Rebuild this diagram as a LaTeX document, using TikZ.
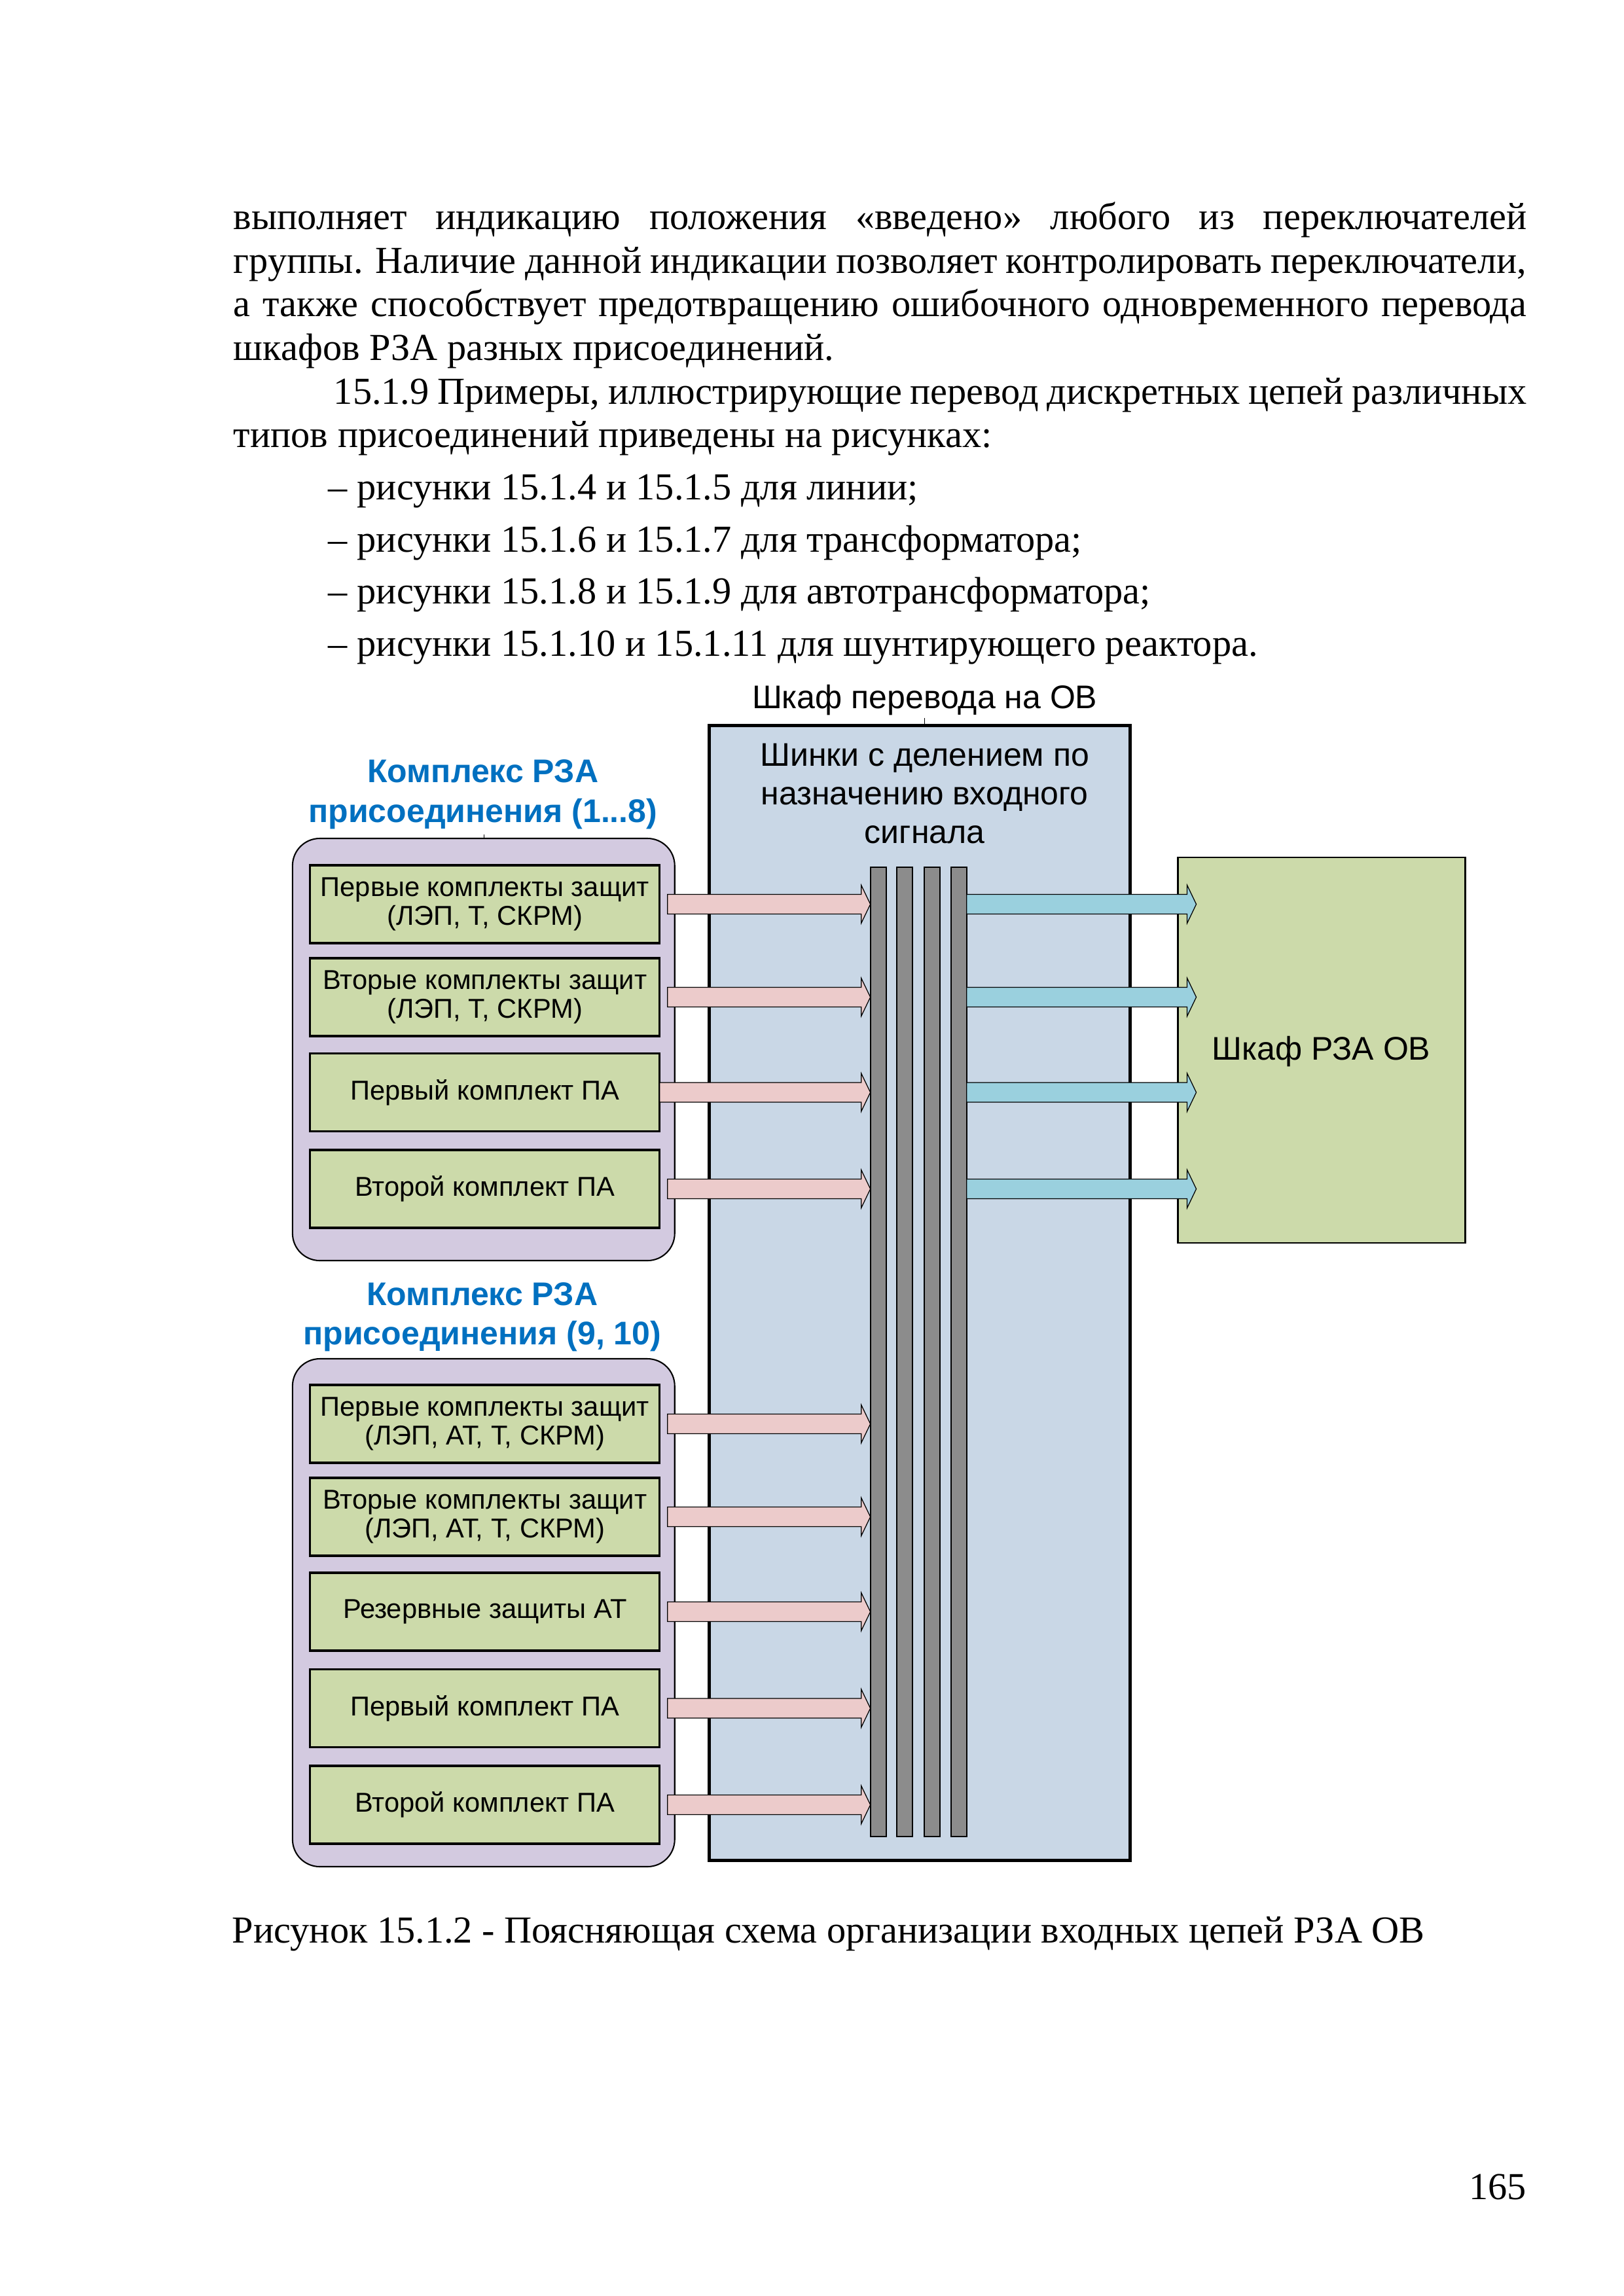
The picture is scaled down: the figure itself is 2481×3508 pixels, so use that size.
\documentclass[tikz,border=0pt]{standalone}
\usepackage{fontspec}
\setmainfont{Liberation Serif}
\newfontfamily\arialf{Liberation Sans}
\usetikzlibrary{calc}
\definecolor{purp}{RGB}{211,202,224}
\definecolor{grn}{RGB}{204,218,170}
\definecolor{bigblue}{RGB}{201,215,230}
\definecolor{pinkarr}{RGB}{236,203,203}
\definecolor{aquaarr}{RGB}{154,208,222}
\definecolor{bargray}{RGB}{140,140,140}
\definecolor{labblue}{RGB}{0,112,192}
\tikzset{
  body/.style={anchor=base west, inner sep=0pt, outer sep=0pt, font=\fontsize{14pt}{16pt}\selectfont},
  gbox/.style={draw=black, line width=0.75pt, fill=grn, minimum width=128.12pt, minimum height=28.56pt,
    inner sep=0pt, outer sep=0pt, align=center, font=\arialf\fontsize{10pt}{10.7pt}\selectfont},
  pbox/.style={draw=black, line width=0.5pt, fill=purp, rounded corners=10pt, minimum width=140.12pt,
    inner sep=0pt, outer sep=0pt},
  busbar/.style={draw=black, line width=0.45pt, fill=bargray, minimum width=5.76pt, minimum height=355.43pt,
    inner sep=0pt, outer sep=0pt},
  labtext/.style={anchor=base, inner sep=0pt, outer sep=0pt, font=\arialf\fontsize{12pt}{14pt}\selectfont},
  bluelab/.style={anchor=base, inner sep=0pt, outer sep=0pt, text=labblue, font=\arialf\bfseries\fontsize{12pt}{14pt}\selectfont},
  arrowline/.style={draw=black, line width=0.3pt},
  tick/.style={draw=black, line width=0.3pt}
}
\newcommand{\fatarrow}[3]{%
  \draw[arrowline, fill=#1] let \p1=(#2), \p2=(#3) in
    (\x1,\y1+3.6pt) -- (\x2-3.36pt,\y1+3.6pt) -- (\x2-3.36pt,\y1+7.0pt) -- (\x2,\y1)
    -- (\x2-3.36pt,\y1-7.0pt) -- (\x2-3.36pt,\y1-3.6pt) -- (\x1,\y1-3.6pt) -- cycle;}

\begin{document}
\begin{tikzpicture}[x=0.239934pt, y=-0.239991pt]
\useasboundingbox (0,0) rectangle (2481,3508);
\fill[white] (0,0) rectangle (2481,3508);

% ---------- body text ----------
\node[body] (t1) at (357,350) {\makebox[474.1pt][s]{выполняет индикацию положения «введено» любого из переключателей}};
\node[body] (t2) at (357,417) {\makebox[474.1pt][s]{группы. Наличие данной индикации позволяет контролировать переключатели,}};
\node[body] (t3) at (357,483) {\makebox[474.1pt][s]{а также способствует предотвращению ошибочного одновременного перевода}};
\node[body] (t4) at (357,550) {шкафов РЗА разных присоединений.};
\node[body] (t5) at (510,617) {\makebox[437.4pt][s]{15.1.9 Примеры, иллюстрирующие перевод дискретных цепей различных}};
\node[body] (t6) at (357,683) {типов присоединений приведены на рисунках:};
\node[body] (t7) at (502,763) {– рисунки 15.1.4 и 15.1.5 для линии;};
\node[body] (t8) at (502,843) {– рисунки 15.1.6 и 15.1.7 для трансформатора;};
\node[body] (t9) at (502,922) {– рисунки 15.1.8 и 15.1.9 для автотрансформатора;};
\node[body] (t10) at (502,1002) {– рисунки 15.1.10 и 15.1.11 для шунтирующего реактора.};

% ---------- diagram ----------
% big cabinet
\node[draw=black, line width=1.2pt, fill=bigblue, minimum width=154.28pt, minimum height=416.14pt,
  inner sep=0pt, outer sep=0pt] (big) at (1405.5,1975) {};
\node[labtext] (title) at (1413,1082) {Шкаф перевода на ОВ};
\coordinate (titlefoot) at (1413,1097);
\draw[tick] (titlefoot) -- (titlefoot |- big.north);
\node[labtext] (sh1) at (1413,1170) {Шинки с делением по};
\node[labtext] (sh2) at (1413,1229) {назначению входного};
\node[labtext] (sh3) at (1413,1288) {сигнала};

% bus bars
\node[busbar] (b1) at (1342,2065.5) {};
\node[busbar] (b2) at (1382,2065.5) {};
\node[busbar] (b3) at (1424,2065.5) {};
\node[busbar] (b4) at (1465,2065.5) {};

% OV cabinet
\node[draw=black, line width=0.65pt, fill=grn, minimum width=105.33pt, minimum height=141.35pt,
  inner sep=0pt, outer sep=0pt] (ov) at (2019.5,1604.5) {};
\node[labtext] (ovtext) at (2019,1619) {Шкаф РЗА ОВ};

% group 1
\node[bluelab] (l1a) at (738,1195) {Комплекс РЗА};
\node[bluelab] (l1b) at (738,1256) {присоединения (1...8)};
\node[pbox, minimum height=154.8pt] (c1) at (739,1603.5) {};
\coordinate (l1foot) at (740,1275);
\draw[tick] (l1foot) -- (l1foot |- c1.north);
\node[gbox] (g1) at (741,1381.5) {Первые комплекты защит\\(ЛЭП, Т, СКРМ)};
\node[gbox] (g2) at (741,1523.5) {Вторые комплекты защит\\(ЛЭП, Т, СКРМ)};
\node[gbox] (g3) at (741,1669) {Первый комплект ПА};
\node[gbox] (g4) at (741,1816.5) {Второй комплект ПА};

% group 2
\node[bluelab] (l2a) at (737,1994) {Комплекс РЗА};
\node[bluelab] (l2b) at (737,2054) {присоединения (9, 10)};
\node[pbox, minimum height=186.23pt] (c2) at (739,2464) {};
\node[gbox] (g5) at (741,2175.5) {Первые комплекты защит\\(ЛЭП, АТ, Т, СКРМ)};
\node[gbox] (g6) at (741,2317.5) {Вторые комплекты защит\\(ЛЭП, АТ, Т, СКРМ)};
\node[gbox] (g7) at (741,2462.5) {Резервные защиты АТ};
\node[gbox] (g8) at (741,2610) {Первый комплект ПА};
\node[gbox] (g9) at (741,2757.5) {Второй комплект ПА};

% input arrows (pink)
\foreach \g in {g1,g2,g4,g5,g6,g7,g8,g9}{
  \fatarrow{pinkarr}{$(\g.east)+(12,0)$}{\g.east -| b1.west}
}
\fatarrow{pinkarr}{g3.east}{g3.east -| b1.west}

% output arrows (aqua)
\foreach \g in {g1,g2,g3,g4}{
  \fatarrow{aquaarr}{\g.east -| b4.east}{$(\g.east -| ov.west)+(28,0)$}
}

% caption and page number
\node[body] (cap) at (355,2968) {Рисунок 15.1.2 - Поясняющая схема организации входных цепей РЗА ОВ};
\node[anchor=base east, inner sep=0pt, font=\fontsize{14pt}{16pt}\selectfont] (pg) at (2333,3360) {165};
\end{tikzpicture}
\end{document}
